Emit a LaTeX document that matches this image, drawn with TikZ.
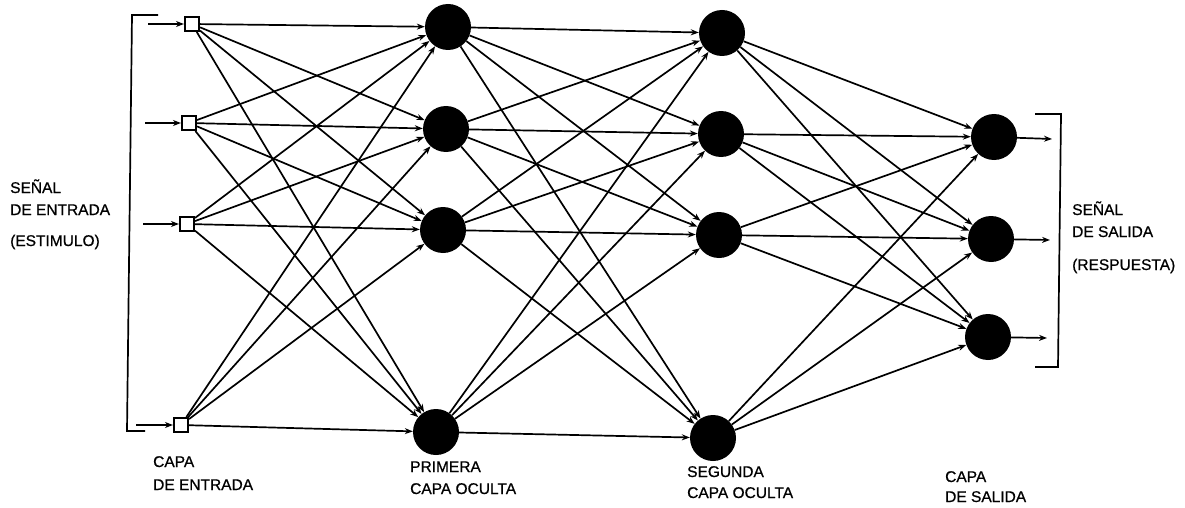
\documentclass[tikz,border=0pt]{standalone}
\usepackage{fontspec}
\setmainfont{Liberation Sans}
\newfontfamily\lblfont{Liberation Sans}[FakeBold=0.7]
\usetikzlibrary{arrows.meta}
\begin{document}
\begin{tikzpicture}[x=1pt,y=-1pt,
  neuron/.style={circle,fill=black,minimum size=46pt,inner sep=0pt},
  inbox/.style={draw,fill=white,minimum size=14.5pt,inner sep=0pt,line width=1.6pt},
  conn/.style={line width=1.7pt,-{Stealth[length=8pt,width=6pt]}},
  brk/.style={line width=1.7pt},
  lbl/.style={font=\lblfont\fontsize{15.5}{22}\selectfont,anchor=base west,inner sep=0pt}]
\useasboundingbox (0,0) rectangle (1185,508);

% input layer
\node[inbox] (i1) at (192,24) {};
\node[inbox] (i2) at (189,123) {};
\node[inbox] (i3) at (187,224) {};
\node[inbox] (i4) at (181,425) {};
% first hidden layer
\node[neuron] (a1) at (448,27) {};
\node[neuron] (a2) at (446,129) {};
\node[neuron] (a3) at (443,230) {};
\node[neuron] (a4) at (436,432) {};
% second hidden layer
\node[neuron] (b1) at (722,33) {};
\node[neuron] (b2) at (721,134) {};
\node[neuron] (b3) at (719,235) {};
\node[neuron] (b4) at (713,438) {};
% output layer
\node[neuron] (o1) at (994,137) {};
\node[neuron] (o2) at (991,239) {};
\node[neuron] (o3) at (988,337) {};

% free ends
\coordinate (s1) at (148,24);
\coordinate (s2) at (145,123);
\coordinate (s3) at (143,224);
\coordinate (s4) at (136,425);
\coordinate (e1) at (1052,139);
\coordinate (e2) at (1050,240);
\coordinate (e3) at (1047,338);

\foreach \k in {1,...,4} \draw[conn] (s\k) -- (i\k);
\foreach \k in {1,...,3} \draw[conn] (o\k) -- (e\k);

\foreach \i in {1,...,4}
  \foreach \j in {1,...,4}
    \draw[conn] (i\i) -- (a\j);
\foreach \i in {1,...,4}
  \foreach \j in {1,...,4}
    \draw[conn] (a\i) -- (b\j);
\foreach \i in {1,...,4}
  \foreach \j in {1,...,3}
    \draw[conn] (b\i) -- (o\j);

% brackets
\coordinate (lb1) at (158,15);
\coordinate (lb2) at (132,15);
\coordinate (lb3) at (127,431);
\coordinate (lb4) at (145,431);
\draw[brk] (lb1) -- (lb2) -- (lb3) -- (lb4);
\coordinate (rb1) at (1035,114);
\coordinate (rb2) at (1061,114);
\coordinate (rb3) at (1058,367);
\coordinate (rb4) at (1035,367);
\draw[brk] (rb1) -- (rb2) -- (rb3) -- (rb4);

% labels
\node[lbl] (t1) at (10,193) {SEÑAL};
\node[lbl] (t2) at (10,215) {DE ENTRADA};
\node[lbl] (t3) at (10,246) {(ESTIMULO)};
\node[lbl] (t4) at (153,467) {CAPA};
\node[lbl] (t5) at (153,490) {DE ENTRADA};
\node[lbl] (t6) at (410,472) {PRIMERA};
\node[lbl] (t7) at (410,494) {CAPA OCULTA};
\node[lbl] (t8) at (687,477) {SEGUNDA};
\node[lbl] (t9) at (687,498) {CAPA OCULTA};
\node[lbl] (t10) at (945,482) {CAPA};
\node[lbl] (t11) at (945,502) {DE SALIDA};
\node[lbl] (t12) at (1072,215) {SEÑAL};
\node[lbl] (t13) at (1072,237) {DE SALIDA};
\node[lbl] (t14) at (1072,270) {(RESPUESTA)};
\end{tikzpicture}
\end{document}
